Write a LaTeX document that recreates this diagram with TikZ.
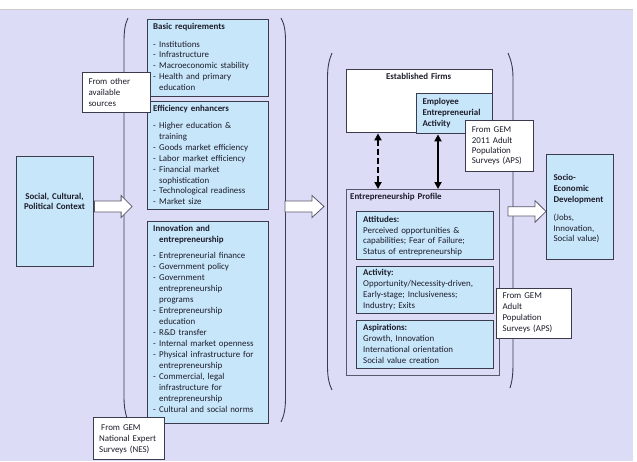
\documentclass[tikz,border=0pt]{standalone}
\usepackage{fontspec}
\setmainfont{Carlito}
\usetikzlibrary{arrows.meta}
\definecolor{bg}{RGB}{220,220,246}
\definecolor{lblue}{RGB}{200,230,250}
\definecolor{edge}{RGB}{58,60,78}
\definecolor{ink}{RGB}{28,28,42}
\newcommand{\dd}{\makebox[6pt][l]{-}}
\newcommand{\ii}{\hspace*{6pt}}
\begin{document}
\begin{tikzpicture}[x=1pt,y=-1pt,
  box/.style={draw=edge, line width=1.1pt, fill=lblue, inner sep=0pt, anchor=north west},
  wbox/.style={box, fill=white, line width=0.9pt},
  pbox/.style={box, fill=bg, draw=edge!85, line width=0.9pt},
  txt/.style={font=\fontsize{8.9}{10.9}\selectfont, text=ink, inner sep=0pt, anchor=base west, text width=#1, align=left},
  ctxt/.style={font=\fontsize{8.9}{10.9}\selectfont\bfseries, text=ink, inner sep=0pt, anchor=base, text width=#1, align=center},
  paren/.style={draw=edge, line width=0.9pt},
  blockarrow/.style={draw=edge!85, fill=white, line width=0.8pt, line join=miter},
  dbl/.style={draw=black, line width=2.2pt, {Triangle[length=7pt,width=7pt]}-{Triangle[length=7pt,width=7pt]}}
]
\useasboundingbox (0,0) rectangle (637,461);
\fill[white] (0,0) rectangle (637,461);
\fill[bg] (0,9) rectangle (633,461);
\draw[black!20, line width=0.6pt] (0,9) -- (633,9);

% first bracket
\draw[paren] (128,18) .. controls (125,24) and (124,31) .. (124,42) -- (124,396) .. controls (124,406) and (125,412) .. (127,418);
\draw[paren] (281,18) .. controls (284.5,24) and (285.5,31) .. (285.5,42) -- (285.5,398) .. controls (285.5,409) and (284,416) .. (281,422);

% left column boxes
\node[box, minimum width=121pt, minimum height=76.7pt] (basic) at (147,19) {};
\node[txt=115pt, font=\fontsize{8.9}{10.9}\selectfont\bfseries] (basict) at (153,29.3) {Basic requirements};
\node[txt=115pt] (basici) at (153,47) {\dd Institutions\\ \dd Infrastructure\\ \dd Macroeconomic stability\\ \dd Health and primary\\ \ii education};

\node[box, minimum width=121pt, minimum height=108.6pt] (eff) at (147,100.7) {};
\node[txt=115pt, font=\fontsize{8.9}{10.9}\selectfont\bfseries] (efft) at (153,111.5) {Efficiency enhancers};
\node[txt=115pt] (effi) at (153,128.5) {\dd Higher education \&\\ \ii training\\ \dd Goods market efficiency\\ \dd Labor market efficiency\\ \dd Financial market\\ \ii sophistication\\ \dd Technological readiness\\ \dd Market size};

\node[box, minimum width=121pt, minimum height=201.5pt] (inno) at (147,221.3) {};
\node[txt=115pt, font=\fontsize{8.9}{10.9}\selectfont\bfseries] (innot) at (153,231.5) {Innovation and\\ \ii entrepreneurship};
\node[txt=115pt, font=\fontsize{8.9}{10.96}\selectfont] (innoi) at (153,258.8) {\dd Entrepreneurial finance\\ \dd Government policy\\ \dd Government\\ \ii entrepreneurship\\ \ii programs\\ \dd Entrepreneurship\\ \ii education\\ \dd R\&D transfer\\ \dd Internal market openness\\ \dd Physical infrastructure for\\ \ii entrepreneurship\\ \dd Commercial, legal\\ \ii infrastructure for\\ \ii entrepreneurship\\ \dd Cultural and social norms};

\node[wbox, minimum width=68pt, minimum height=40pt] (other) at (82.3,72.3) {};
\node[txt=62pt, font=\fontsize{8.9}{11}\selectfont] (othert) at (88.3,84) {From other\\available\\sources};

\node[wbox, minimum width=71.3pt, minimum height=41.7pt] (nes) at (93,417.3) {};
\node[txt=66pt] (nest) at (99,430.6) {\hspace*{2pt}From GEM\\National Expert\\Surveys (NES)};

\node[box, minimum width=77.6pt, minimum height=110pt] (soc) at (15.7,156) {};
\node[ctxt=76pt] (soct) at (54.5,199) {Social, Cultural,\\Political Context};

% block arrows
\coordinate (a1) at (soc.east |- 0,206.5);
\draw[blockarrow] (a1) ++(0,-5.5) -- ++(26.7,0) -- ++(0,-5.5) -- ++(11,11) -- ++(-11,11) -- ++(0,-5.5) -- ++(-26.7,0) -- cycle;
\coordinate (a2) at (285,206.5);
\draw[blockarrow] (a2) ++(0,-5.5) -- ++(27,0) -- ++(0,-5.5) -- ++(12,11) -- ++(-12,11) -- ++(0,-5.5) -- ++(-27,0) -- cycle;

% second bracket
\draw[paren] (332,53) .. controls (329,60) and (327.5,67) .. (327.5,78) -- (327.5,366) .. controls (327.5,377) and (329,384) .. (332,390);
\draw[paren] (508,53) .. controls (511,60) and (513,67) .. (513,78) -- (513,364) .. controls (513,375) and (512,382) .. (510,388);

\node[wbox, line width=1.1pt, minimum width=146pt, minimum height=63.3pt] (est) at (345.7,69) {};
\node[ctxt=140pt] (estt) at (418.7,79.8) {Established Firms};
\node[box, minimum width=76pt, minimum height=40pt] (emp) at (415.7,93.3) {};
\node[txt=72pt, font=\fontsize{8.9}{11}\selectfont\bfseries] (empt) at (422.3,104.5) {Employee\\Entrepreneurial\\Activity};

\node[wbox, minimum width=68.3pt, minimum height=51pt] (aps1) at (465,120) {};
\node[txt=64pt, font=\fontsize{8.9}{10.3}\selectfont] (aps1t) at (471.7,132.8) {From GEM\\2011 Adult\\Population\\Surveys (APS)};

\node[pbox, minimum width=153.3pt, minimum height=186pt] (prof) at (345.7,189) {};
\node[txt=145pt, font=\fontsize{8.9}{10.9}\selectfont\bfseries] (proft) at (350,199.5) {Entrepreneurship Profile};

\node[box, minimum width=136.7pt, minimum height=48.3pt] (att) at (356,210.7) {};
\node[txt=130pt, font=\fontsize{8.9}{10.8}\selectfont] (attt) at (363,222.2) {\textbf{Attitudes:}\\Perceived opportunities \&\\capabilities; Fear of Failure;\\Status of entrepreneurship};
\node[box, minimum width=136.7pt, minimum height=47.3pt] (act) at (356,266) {};
\node[txt=130pt, font=\fontsize{8.9}{11.1}\selectfont] (actt) at (363,275.5) {\textbf{Activity:}\\Opportunity/Necessity-driven,\\Early-stage; Inclusiveness;\\Industry; Exits};
\node[box, minimum width=136.7pt, minimum height=48.3pt] (asp) at (356,320) {};
\node[txt=130pt, font=\fontsize{8.9}{11}\selectfont] (aspt) at (363,330.8) {\textbf{Aspirations:}\\Growth, Innovation\\International orientation\\Social value creation};

\node[wbox, minimum width=75pt, minimum height=50pt] (aps2) at (495.7,288.3) {};
\node[txt=68pt] (aps2t) at (502.3,298.8) {From GEM\\Adult\\Population\\Surveys (APS)};

\coordinate (a3) at (508,211.4);
\draw[blockarrow] (a3) ++(0,-4.6) -- ++(27,0) -- ++(0,-6.2) -- ++(11,10.8) -- ++(-11,10.8) -- ++(0,-6.2) -- ++(-27,0) -- cycle;

\node[box, minimum width=66.7pt, minimum height=105.3pt] (socio) at (546,153.7) {};
\node[txt=62pt, font=\fontsize{8.9}{11.2}\selectfont\bfseries] (sociot) at (553.3,180.5) {Socio-\\Economic\\Development};
\node[txt=62pt, font=\fontsize{8.9}{10.5}\selectfont] (sociob) at (553.3,220.5) {(Jobs,\\Innovation,\\Social value)};

% double arrows
\coordinate (d1) at (378,0);
\coordinate (d2) at (438,0);
\draw[dbl, dash pattern=on 6pt off 3pt] (d1 |- est.south) -- (d1 |- prof.north);
\draw[dbl] (d2 |- emp.south) -- (d2 |- prof.north);
\end{tikzpicture}
\end{document}
